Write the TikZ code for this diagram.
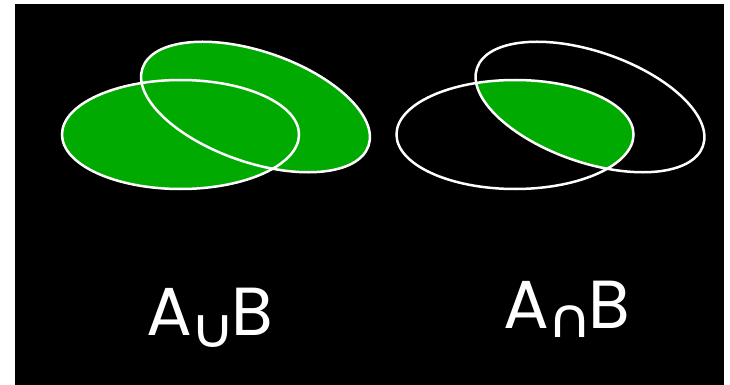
\documentclass[tikz,border=0pt]{standalone}
\usepackage{fontspec}
\setmainfont{Poppins}
\newfontfamily\symfont{DejaVu Sans}
\definecolor{vgreen}{RGB}{0,170,0}
\tikzset{
  outline/.style={draw=white, line width=2.5pt},
  setlabel/.style={anchor=base west, inner sep=0pt, text=white, font=\fontsize{68}{68}\selectfont},
}
\newcommand\ellA{(0,0) ellipse [x radius=118.5, y radius=54.5]}
\newcommand\ellB{(0,0) ellipse [x radius=119.5, y radius=55.4]}
\newcommand\opsym[2]{\hspace{-2pt}\raisebox{#1}{\scalebox{1.12}[1.0]{\symfont\fontsize{55}{55}\selectfont #2}}\hspace{-4pt}}
\begin{document}
\begin{tikzpicture}[x=1pt,y=-1pt]
\useasboundingbox (0,0) rectangle (730,385);
\fill[white] (0,0) rectangle (730,385);
\fill[black] (15,4) rectangle (724,385);
% left panel: union
\fill[vgreen, shift={(180.5,134.5)}] \ellA;
\fill[vgreen, shift={(255.5,107)}, rotate=-19] \ellB;
\draw[outline, shift={(180.5,134.5)}] \ellA;
\draw[outline, shift={(255.5,107)}, rotate=-19] \ellB;
% right panel: intersection
\begin{scope}
  \clip[shift={(515,134.5)}] \ellA;
  \fill[vgreen, shift={(590,107)}, rotate=-19] \ellB;
\end{scope}
\draw[outline, shift={(515,134.5)}] \ellA;
\draw[outline, shift={(590,107)}, rotate=-19] \ellB;
% labels
\node[setlabel] (unionlabel) at (146,335) {A\opsym{-12pt}{∪}B};
\node[setlabel] (interlabel) at (503,328) {A\opsym{-9pt}{∩}B};
\end{tikzpicture}
\end{document}
